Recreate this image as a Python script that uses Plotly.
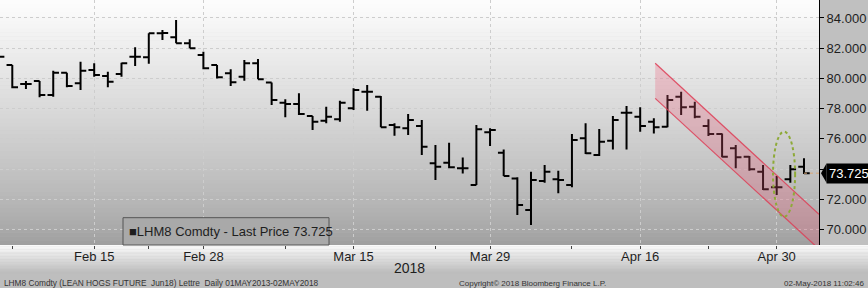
import plotly.graph_objects as go

# ---------------- data ----------------
dates = [
    "2018-02-06", "2018-02-07", "2018-02-08", "2018-02-09", "2018-02-12", "2018-02-13",
    "2018-02-14", "2018-02-15", "2018-02-16", "2018-02-20", "2018-02-21", "2018-02-22",
    "2018-02-23", "2018-02-26", "2018-02-27", "2018-02-28", "2018-03-01", "2018-03-02",
    "2018-03-05", "2018-03-06", "2018-03-07", "2018-03-08", "2018-03-09", "2018-03-12",
    "2018-03-13", "2018-03-14", "2018-03-15", "2018-03-16", "2018-03-19", "2018-03-20",
    "2018-03-21", "2018-03-22", "2018-03-23", "2018-03-26", "2018-03-27", "2018-03-28",
    "2018-03-29", "2018-04-02", "2018-04-03", "2018-04-04", "2018-04-05", "2018-04-06",
    "2018-04-09", "2018-04-10", "2018-04-11", "2018-04-12", "2018-04-13", "2018-04-16",
    "2018-04-17", "2018-04-18", "2018-04-19", "2018-04-20", "2018-04-23", "2018-04-24",
    "2018-04-25", "2018-04-26", "2018-04-27", "2018-04-30", "2018-05-01", "2018-05-02",
]
opens = [
    82.00, 80.89, 79.63, 79.83, 78.90, 80.38, 79.68, 80.56, 80.16, 80.29, 81.44, 81.40,
    82.99, 82.72, 82.32, 81.55, 80.89, 80.34, 80.11, 81.00, 79.72, 78.39, 78.30, 77.51,
    77.20, 77.29, 78.02, 79.12, 78.79, 76.91, 76.70, 76.85, 74.38, 74.42, 74.05, 72.94,
    76.43, 75.08, 73.38, 71.28, 73.21, 73.32, 72.94, 76.03, 74.93, 75.87, 77.73, 77.46,
    77.13, 76.80, 78.79, 78.13, 76.85, 76.32, 75.37, 74.82, 73.82, 72.79, 73.32, 74.15,
]
highs = [
    82.40, 80.89, 79.83, 79.83, 80.51, 80.38, 81.11, 81.00, 80.44, 81.04, 82.06, 82.99,
    83.20, 83.87, 82.59, 81.77, 80.89, 80.60, 81.22, 81.28, 79.72, 78.62, 79.01, 77.51,
    78.13, 78.52, 79.34, 79.56, 78.83, 77.03, 77.64, 77.25, 75.59, 75.74, 74.77, 76.91,
    76.70, 75.30, 73.45, 73.82, 74.26, 73.89, 76.32, 77.03, 76.65, 77.51, 78.17, 78.09,
    77.36, 78.90, 79.12, 78.46, 77.29, 76.36, 75.59, 74.86, 74.26, 73.54, 74.26, 74.71,
]
lows = [
    81.30, 79.34, 79.30, 78.75, 78.79, 79.41, 79.23, 80.11, 79.41, 80.11, 80.82, 80.97,
    82.54, 82.32, 81.99, 80.60, 80.00, 79.50, 79.85, 79.94, 78.24, 77.42, 77.58, 76.58,
    77.03, 77.13, 77.91, 77.86, 76.76, 76.21, 76.25, 74.93, 73.27, 74.05, 73.71, 72.94,
    75.52, 73.54, 70.95, 70.29, 73.09, 72.39, 72.79, 74.99, 74.86, 75.30, 75.30, 76.47,
    76.36, 76.76, 77.58, 77.36, 76.19, 74.78, 74.05, 73.89, 72.61, 72.28, 73.09, 73.67,
]
closes = [
    81.44, 79.41, 79.63, 78.90, 80.38, 79.50, 80.51, 80.23, 79.78, 81.00, 81.44, 82.99,
    83.00, 82.32, 81.99, 80.67, 80.07, 79.74, 81.00, 79.94, 78.57, 78.30, 77.64, 77.13,
    77.46, 78.39, 79.23, 79.12, 76.76, 76.76, 77.25, 75.48, 74.15, 74.11, 74.05, 76.63,
    76.58, 73.54, 71.62, 73.27, 73.82, 73.27, 75.92, 75.04, 75.81, 77.25, 77.73, 76.85,
    76.76, 78.57, 78.09, 77.46, 76.32, 74.82, 74.78, 73.98, 72.66, 72.79, 73.98, 73.725,
]
last_price = 73.725

x_tick_dates = ["2018-02-15", "2018-02-28", "2018-03-15", "2018-03-29", "2018-04-16", "2018-04-30"]
x_tick_labels = ["Feb 15", "Feb 28", "Mar 15", "Mar 29", "Apr 16", "Apr 30"]
x_minor_dates = ["2018-02-07", "2018-02-22", "2018-03-08", "2018-03-23", "2018-04-09", "2018-04-23"]
y_tick_vals = [70, 72, 74, 76, 78, 80, 82, 84]
y_tick_text = ["70.000", "72.000", "", "76.000", "78.000", "80.000", "82.000", "84.000"]

# downtrend channel (index positions on the category axis, price levels)
channel_x = [48.1, 60.1]
channel_upper = [81.0, 71.0]
channel_lower = [78.68, 68.7]
# highlighted ellipse (index range, price range)
ellipse_x = [56.73, 58.35]
ellipse_y = [70.84, 76.47]

X_RANGE = [0.1, 60.1]
Y_RANGE = [68.97, 85.19]

FONT = "Liberation Sans"

fig = go.Figure()

fig.add_trace(go.Ohlc(
    x=dates, open=opens, high=highs, low=lows, close=closes,
    increasing=dict(line=dict(color="#000000", width=2)),
    decreasing=dict(line=dict(color="#000000", width=2)),
    tickwidth=0.42, hoverinfo="skip", showlegend=False,
))

shapes = []

# vertical gradient of the plot area (paper coords)
N = 60
for i in range(N):
    t = (i + 0.5) / N  # 0 bottom .. 1 top
    g = int(round(158 + (253 - 158) * (t ** 0.8)))
    shapes.append(dict(type="rect", xref="paper", yref="paper",
                       x0=0, x1=1, y0=i / N, y1=(i + 1) / N + 0.002,
                       fillcolor=f"rgb({g},{g},{g})", line=dict(width=0), layer="below"))

# gradient of the strip below the plot
PH = 245.0
strip = 43.0
M = 30
for i in range(M):
    t0 = i / M
    t1 = (i + 1) / M
    py0 = t0 * strip
    g = int(round(250 - (250 - 186) * (py0 / 28.0))) if py0 < 28 else 190
    shapes.append(dict(type="rect", xref="paper", yref="paper",
                       x0=-0.01, x1=1.08,
                       y0=-(t1 * strip) / PH - 0.001, y1=-(t0 * strip) / PH,
                       fillcolor=f"rgb({g},{g},{g})", line=dict(width=0), layer="below"))

# channel
shapes.append(dict(
    type="path", xref="x", yref="y",
    path=(f"M {channel_x[0]},{channel_upper[0]} L {channel_x[1]},{channel_upper[1]} "
          f"L {channel_x[1]},{channel_lower[1]} L {channel_x[0]},{channel_lower[0]} Z"),
    fillcolor="rgba(232,90,120,0.28)", line=dict(width=0), layer="above"))
shapes.append(dict(type="line", xref="x", yref="y",
                   x0=channel_x[0], y0=channel_upper[0], x1=channel_x[1], y1=channel_upper[1],
                   line=dict(color="rgba(222,60,85,0.85)", width=1.2), layer="above"))
shapes.append(dict(type="line", xref="x", yref="y",
                   x0=channel_x[0], y0=channel_lower[0], x1=channel_x[1], y1=channel_lower[1],
                   line=dict(color="rgba(222,60,85,0.85)", width=1.2), layer="above"))

# ellipse
shapes.append(dict(type="circle", xref="x", yref="y",
                   x0=ellipse_x[0], x1=ellipse_x[1], y0=ellipse_y[0], y1=ellipse_y[1],
                   line=dict(color="#8eaa38", width=2, dash="dot"), layer="above"))

# last price dotted line
shapes.append(dict(type="line", xref="x", yref="y",
                   x0=len(dates) - 1, x1=X_RANGE[1], y0=last_price, y1=last_price,
                   line=dict(color="#d9a878", width=1, dash="dot"), layer="above"))

# last price tag pointer
px = 1.0 / 819.0
shapes.append(dict(type="path", xref="paper", yref="y",
                   path=(f"M {1 + 2 * px},{last_price} L {1 + 7.5 * px},{last_price + 0.64} "
                         f"L {1 + 7.5 * px},{last_price - 0.64} Z"),
                   fillcolor="#000000", line=dict(width=0), layer="above"))

# legend box
shapes.append(dict(type="rect", xref="paper", yref="paper",
                   x0=123 * px, x1=329 * px, y0=0.0, y1=(PH - 217.7) / PH,
                   fillcolor="#a9a9a9", line=dict(color="#555555", width=1), layer="above"))

annotations = [
    dict(text="■LHM8 Comdty - Last Price 73.725", xref="paper", yref="paper",
         x=127 * px, y=(PH - 231.5) / PH, xanchor="left", yanchor="middle",
         showarrow=False, font=dict(family=FONT, size=13, color="#1e1e1e")),
    dict(text=f"{last_price:.3f}", xref="paper", yref="y", x=1 + 7 * px, y=last_price,
         xanchor="left", yanchor="middle", showarrow=False, bgcolor="#000000",
         borderpad=2, font=dict(family=FONT, size=13, color="#ffffff")),
    dict(text="2018", xref="paper", yref="paper", x=409 * px, y=-(268 - PH) / PH,
         xanchor="center", yanchor="middle", showarrow=False,
         font=dict(family=FONT, size=14, color="#1e1e1e")),
    dict(text="LHM8 Comdty (LEAN HOGS FUTURE  Jun18) Lettre  Daily 01MAY2013-02MAY2018",
         xref="paper", yref="paper", x=2 * px, y=-(283 - PH) / PH,
         xanchor="left", yanchor="middle", showarrow=False,
         font=dict(family=FONT, size=8.3, color="#333333")),
    dict(text="Copyright© 2018 Bloomberg Finance L.P.",
         xref="paper", yref="paper", x=532 * px, y=-(283 - PH) / PH,
         xanchor="center", yanchor="middle", showarrow=False,
         font=dict(family=FONT, size=8, color="#333333")),
    dict(text="02-May-2018 11:02:46",
         xref="paper", yref="paper", x=866 * px, y=-(283 - PH) / PH,
         xanchor="right", yanchor="middle", showarrow=False,
         font=dict(family=FONT, size=8, color="#333333")),
]

fig.update_layout(
    width=868, height=288,
    margin=dict(l=0, r=49, t=0, b=43),
    paper_bgcolor="#c0c0c0", plot_bgcolor="rgba(0,0,0,0)",
    showlegend=False, shapes=shapes, annotations=annotations,
    font=dict(family=FONT, size=13, color="#1e1e1e"),
    hovermode=False,
)
fig.update_xaxes(
    type="category", range=X_RANGE, rangeslider=dict(visible=False),
    tickmode="array", tickvals=x_tick_dates, ticktext=x_tick_labels,
    ticks="outside", ticklen=3, tickcolor="#444444", ticklabelstandoff=-4,
    showgrid=True, gridcolor="#cdcdcd", griddash="dot", gridwidth=1,
    minor=dict(tickmode="array", tickvals=x_minor_dates, ticks="outside", ticklen=3,
               tickcolor="#444444", showgrid=False),
    showline=False, zeroline=False,
    tickfont=dict(family=FONT, size=13, color="#1e1e1e"),
)
fig.update_yaxes(
    side="right", range=Y_RANGE, tickmode="array", tickvals=y_tick_vals,
    ticktext=y_tick_text, ticks="outside", ticklen=4, tickcolor="#000000",
    showline=True, linecolor="#000000", linewidth=1,
    showgrid=True, gridcolor="#cdcdcd", griddash="dot", gridwidth=1,
    zeroline=False, tickfont=dict(family=FONT, size=13, color="#1e1e1e"),
)

fig.write_html("out.html")
